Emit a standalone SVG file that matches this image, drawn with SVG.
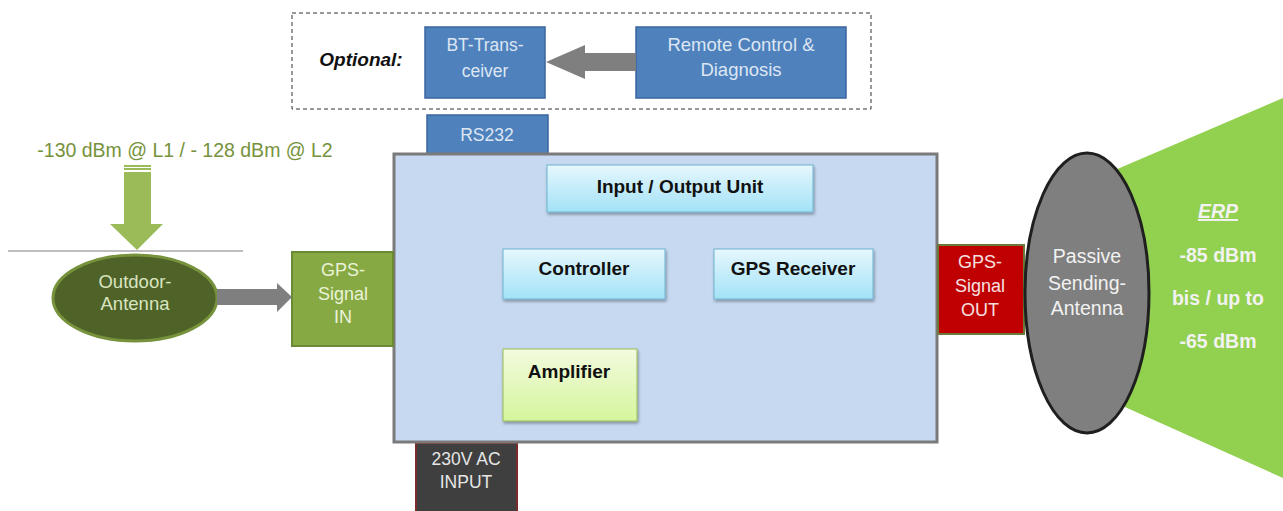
<svg xmlns="http://www.w3.org/2000/svg" width="1283" height="511" viewBox="0 0 1283 511">
<defs>
<linearGradient id="gCyan" x1="0" y1="0" x2="0" y2="1">
<stop offset="0" stop-color="#e6f7fd"/>
<stop offset="1" stop-color="#a3e2f7"/>
</linearGradient>
<linearGradient id="gLime" x1="0" y1="0" x2="0" y2="1">
<stop offset="0" stop-color="#f3fbdf"/>
<stop offset="1" stop-color="#d5f59c"/>
</linearGradient>
<filter id="sh" x="-10%" y="-10%" width="130%" height="140%">
<feDropShadow dx="1" dy="2" stdDeviation="1.5" flood-color="#000" flood-opacity="0.35"/>
</filter>
</defs>
<style>
text{font-family:"Liberation Sans",Arial,sans-serif;text-anchor:middle}
.blue{fill:#4f81bd;stroke:#3a64a0;stroke-width:1.5}
.bt{fill:#dde7f3;font-size:17.5px}
.inner{fill:url(#gCyan);stroke:#6fb3cf;stroke-width:1;filter:url(#sh)}
.it{fill:#111;font-size:19px;font-weight:bold}
.lt{font-size:18px}
.arrowGray{fill:#7f7f7f}
</style>
<rect width="1283" height="511" fill="#fff"/>

<!-- beam -->
<polygon id="beam" points="1087,182 1283,98 1283,478 1087,390" fill="#92d050"/>

<g id="optional">
<rect x="292" y="13" width="579" height="96" fill="none" stroke="#333" stroke-width="1" stroke-dasharray="4,3"/>
<text x="361" y="66" style="font-size:19px;font-weight:bold;font-style:italic;fill:#111">Optional:</text>
</g>

<g id="bt">
<rect class="blue" x="425" y="27" width="120" height="71"/>
<text class="bt" x="485" y="51">BT-Trans-</text>
<text class="bt" x="485" y="77">ceiver</text>
</g>

<g id="remote">
<rect class="blue" x="636" y="27" width="210" height="71"/>
<text class="bt" x="741" y="51" style="font-size:18.5px">Remote Control &amp;</text>
<text class="bt" x="741" y="76" style="font-size:18.5px">Diagnosis</text>
</g>

<g id="rs232">
<rect class="blue" x="427" y="115" width="121" height="40"/>
<text class="bt" x="487" y="141">RS232</text>
</g>

<g id="power">
<rect x="416" y="443" width="101" height="70" fill="#3f3f3f" stroke="#7a2b2b" stroke-width="2"/>
<text x="466" y="465" font-size="17.5" fill="#e6e6e6">230V AC</text>
<text x="466" y="488" font-size="17.5" fill="#e6e6e6">INPUT</text>
</g>

<g id="mainunit">
<rect x="394" y="154" width="543" height="288" fill="#c6d9f1" stroke="#7a7a7a" stroke-width="3"/>
</g>

<g id="io">
<rect class="inner" x="547" y="165" width="266" height="47"/>
<text class="it" x="680" y="193">Input / Output Unit</text>
</g>
<g id="controller">
<rect class="inner" x="503" y="249" width="162" height="50"/>
<text class="it" x="584" y="275">Controller</text>
</g>
<g id="gpsreceiver">
<rect class="inner" x="714" y="249" width="159" height="50"/>
<text class="it" x="793" y="275">GPS Receiver</text>
</g>
<g id="amplifier">
<rect x="503" y="349" width="134" height="72" fill="url(#gLime)" stroke="#9bbb59" stroke-width="1" filter="url(#sh)"/>
<text class="it" x="569" y="378">Amplifier</text>
</g>

<g id="gpsin">
<rect x="292" y="252" width="101" height="94" fill="#87a944" stroke="#6c8a33" stroke-width="2"/>
<text class="lt" x="343" y="276" fill="#eaf3d8">GPS-</text>
<text class="lt" x="343" y="300" fill="#eaf3d8">Signal</text>
<text class="lt" x="343" y="323" fill="#eaf3d8">IN</text>
</g>

<g id="gpsout">
<rect x="938" y="245" width="86" height="89" fill="#c00000" stroke="#6b7a3a" stroke-width="2"/>
<text class="lt" x="980" y="268" fill="#f5e0e0">GPS-</text>
<text class="lt" x="980" y="292" fill="#f5e0e0">Signal</text>
<text class="lt" x="980" y="316" fill="#f5e0e0">OUT</text>
</g>

<g id="passive">
<ellipse cx="1087" cy="293" rx="62" ry="140" fill="#7f7f7f" stroke="#1f1f1f" stroke-width="3"/>
<text x="1087" y="263" font-size="19.5" fill="#f2f2f2">Passive</text>
<text x="1087" y="290" font-size="19.5" fill="#f2f2f2">Sending-</text>
<text x="1087" y="315" font-size="19.5" fill="#f2f2f2">Antenna</text>
</g>

<g id="erp" fill="#f2f2f2" font-weight="bold" font-size="19.5">
<text x="1218" y="218" font-style="italic" text-decoration="underline">ERP</text>
<text x="1218" y="262">-85 dBm</text>
<text x="1218" y="305">bis / up to</text>
<text x="1218" y="348">-65 dBm</text>
</g>

<g id="outdoor">
<line x1="8" y1="251" x2="243" y2="251" stroke="#7f7f7f" stroke-width="1.2"/>
<ellipse cx="135" cy="298" rx="82" ry="43" fill="#4f6228" stroke="#76923c" stroke-width="3"/>
<text x="135" y="288" font-size="18.5" fill="#d9e5c0">Outdoor-</text>
<text x="135" y="310" font-size="18.5" fill="#d9e5c0">Antenna</text>
</g>

<g id="signal">
<text x="185" y="157" font-size="19.5" fill="#76923c">-130 dBm @ L1 / - 128 dBm @ L2</text>
</g>

<g id="connectors">
<polygon class="arrowGray" points="636,53 585,53 585,45 546,62 585,79 585,71 636,71"/>
<polygon class="arrowGray" points="217,289 277,289 277,283 292,297 277,312 277,305 217,305"/>
<rect x="124" y="165" width="27" height="2" fill="#9bbb59"/>
<rect x="124" y="168" width="27" height="2" fill="#9bbb59"/>
<polygon points="124,172 151,172 151,224 163,224 137,250 110,224 124,224" fill="#9bbb59"/>
</g>
</svg>
